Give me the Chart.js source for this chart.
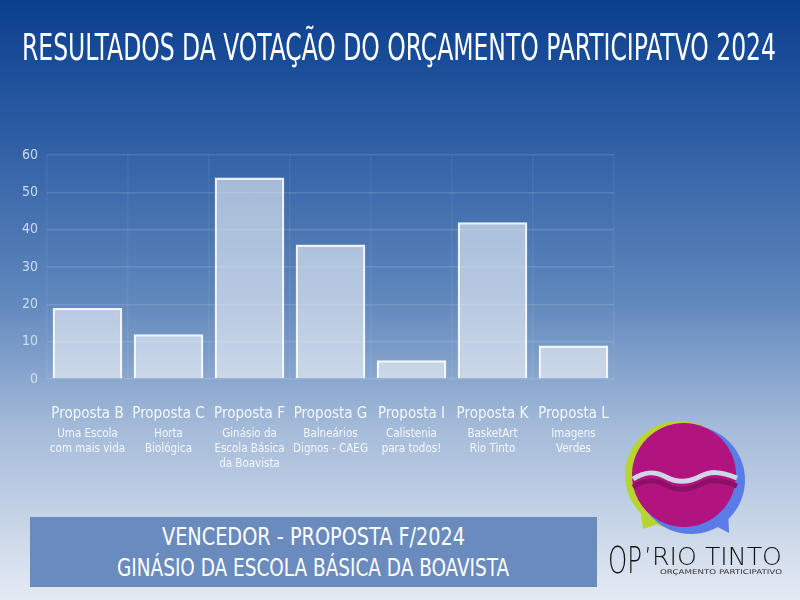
<!DOCTYPE html>
<html lang="pt">
<head>
<meta charset="utf-8">
<title>Resultados da votação do Orçamento Participativo 2024</title>
<script src="https://cdn.jsdelivr.net/npm/chart.js@4.4.1/dist/chart.umd.min.js"></script>
<style>
  html, body { margin: 0; padding: 0; }
  body {
    width: 800px; height: 600px; position: relative; overflow: hidden;
    background: linear-gradient(to bottom, #0a3f8f 0%, #2c5ca3 22%, #6088bd 50%, #a6bcda 72%, #e4eaf3 100%);
    font-family: "Liberation Sans Narrow", "DejaVu Sans Condensed", "Liberation Sans", sans-serif;
  }
  #chart { position: absolute; left: 0; top: 0; }
  .fit { position: absolute; white-space: nowrap; transform-origin: left top; color: #fff; }
  #title { left: 22px; top: 27px; font-size: 38px; line-height: 40px; }
  #banner {
    position: absolute; left: 30px; top: 517px; width: 567px; height: 70px;
    background: #6a8bbd;
  }
  #banner .line { left: 0; font-size: 25px; line-height: 28px; }
  #logo { position: absolute; left: 600px; top: 410px; }
</style>
</head>
<body>
<canvas id="chart" width="800" height="600"></canvas>
<div id="title" class="fit" data-w="754">RESULTADOS DA VOTAÇÃO DO ORÇAMENTO PARTICIPATVO 2024</div>
<div id="banner">
  <div class="fit line" data-w="303" data-cx="283" style="top:6px">VENCEDOR - PROPOSTA F/2024</div>
  <div class="fit line" data-w="392" data-cx="283" style="top:37px">GINÁSIO DA ESCOLA BÁSICA DA BOAVISTA</div>
</div>
<svg id="logo" width="200" height="190" viewBox="0 0 200 190">
  <circle cx="79" cy="65" r="54" fill="#b7d433"/>
  <path d="M40 98 L43 119 L64 112 Z" fill="#b7d433"/>
  <circle cx="91" cy="70" r="54" fill="#5a7ce6"/>
  <path d="M112 114 L129 123 L128 98 Z" fill="#5a7ce6"/>
  <circle cx="84" cy="65" r="52" fill="#b1137f"/>
  <path d="M33 77 C45 69 55 69 66 75 C77 81 87 81 99 75 C110 69 120 69 137 76" fill="none" stroke="#8e0f68" stroke-width="5"/>
  <path d="M33 69 C45 61 55 61 66 67 C77 73 87 73 99 67 C110 61 120 61 137 68" fill="none" stroke="#d0d6e6" stroke-width="5"/>
  <text x="8" y="163" font-family="DejaVu Sans, sans-serif" font-size="37" font-weight="200" fill="#111" textLength="34" lengthAdjust="spacingAndGlyphs">OP</text>
  <text x="44" y="155" font-family="DejaVu Sans, sans-serif" font-size="24" font-weight="200" fill="#111" textLength="138" lengthAdjust="spacingAndGlyphs">’RIO TINTO</text>
  <text x="60" y="164" font-family="DejaVu Sans, sans-serif" font-size="6.5" fill="#333" textLength="122" lengthAdjust="spacingAndGlyphs">ORÇAMENTO PARTICIPATIVO</text>
</svg>
<script>
// Votes per proposal
const proposals = ['Proposta B', 'Proposta C', 'Proposta F', 'Proposta G', 'Proposta I', 'Proposta K', 'Proposta L'];
const descriptions = [
    ['Uma Escola', 'com mais vida'],
    ['Horta', 'Biológica'],
    ['Ginásio da', 'Escola Básica', 'da Boavista'],
    ['Balneários', 'Dignos - CAEG'],
    ['Calistenia', 'para todos!'],
    ['BasketArt', 'Rio Tinto'],
    ['Imagens', 'Verdes']
];
const votes = [19, 12, 54, 36, 5, 42, 9];
const yTicks = [0, 10, 20, 30, 40, 50, 60];

const fontFamily = '"Liberation Sans Narrow", "DejaVu Sans Condensed", sans-serif';

// Squeeze the condensed headings to the width they have in the original
function fitText() {
    document.querySelectorAll('.fit').forEach(el => {
        const target = parseFloat(el.dataset.w);
        const w = el.getBoundingClientRect().width;
        const s = target / w;
        el.style.transform = 'scaleX(' + s + ')';
        if (el.dataset.cx) {
            el.style.left = (parseFloat(el.dataset.cx) - target / 2) + 'px';
        }
    });
}
fitText();

const ctx = document.getElementById('chart').getContext('2d');
new Chart(ctx, {
    type: 'bar',
    data: {
        labels: proposals,
        datasets: [{
            data: votes,
            backgroundColor: 'rgba(255, 255, 255, 0.55)',
            borderColor: 'rgba(255, 255, 255, 0.9)',
            borderWidth: 2.5,
            barPercentage: 0.86,
            categoryPercentage: 1.0
        }]
    },
    options: {
        responsive: false,
        animation: false,
        layout: { padding: { top: 155, right: 186, left: 0, bottom: 0 } },
        plugins: {
            legend: { display: false },
            tooltip: { enabled: false }
        },
        scales: {
            y: {
                min: 0,
                max: 60,
                afterBuildTicks: scale => { scale.ticks = yTicks.map(v => ({ value: v })); },
                afterFit: scale => { scale.width = 47; },
                border: { display: false },
                grid: { color: 'rgba(255, 255, 255, 0.12)', lineWidth: 1.5, drawTicks: false },
                ticks: {
                    padding: 9,
                    color: 'rgba(215, 228, 245, 0.9)',
                    font: { family: fontFamily, size: 14 }
                }
            },
            x: {
                position: 'bottom',
                afterFit: scale => { scale.height = 46; },
                afterUpdate: scale => { scale.paddingLeft = 0; scale.paddingRight = 0; },
                border: { display: false },
                grid: { color: 'rgba(255, 255, 255, 0.06)', lineWidth: 1.5, drawTicks: false },
                ticks: {
                    padding: 26,
                    maxRotation: 0,
                    minRotation: 0,
                    autoSkip: false,
                    color: '#f4f7fc',
                    font: { family: fontFamily, size: 15 }
                }
            },
            x2: {
                type: 'category',
                position: 'bottom',
                labels: descriptions,
                afterFit: scale => { scale.height = 175; },
                border: { display: false },
                grid: { display: false },
                ticks: {
                    padding: -6,
                    maxRotation: 0,
                    minRotation: 0,
                    autoSkip: false,
                    color: '#f4f7fc',
                    font: { family: fontFamily, size: 11.5, lineHeight: 1.3 }
                }
            }
        }
    }
});
</script>
</body>
</html>
